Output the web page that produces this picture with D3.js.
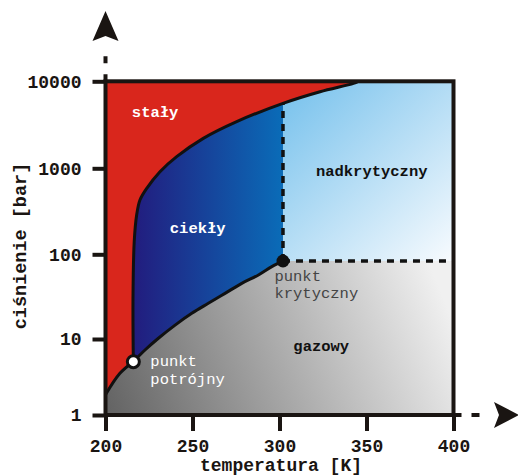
<!DOCTYPE html>
<html>
<head>
<meta charset="utf-8">
<script src="https://cdn.jsdelivr.net/npm/d3@7"></script>
<style>
  body { margin: 0; background: #fff; }
  text { font-family: "Liberation Mono", "DejaVu Sans Mono", monospace; }
</style>
</head>
<body>
<script>
const svgWidth = 518
const svgHeight = 476

// tick values
const xTicks = [200, 250, 300, 350, 400]
const yTicks = [1, 10, 100, 1000, 10000]

// phase boundaries [T (K), p (bar)]
const sublimation = [[200, 1.85], [208.3, 3.54], [216, 5.03]]
const vaporization = [[216, 5.03], [222.7, 7.17], [230.4, 10.2], [240, 14.6], [249.6, 20.1],
  [259.1, 26.4], [268.7, 34.6], [278.3, 45.4], [287.9, 57], [295.6, 71.5], [302, 83.4]]
const melting = [[216, 5.03], [215.8, 30], [216.5, 140], [217.9, 286], [219.8, 428], [223.7, 585],
  [231.3, 912], [240.9, 1360], [256.2, 2210], [275.4, 3440], [302, 5580], [323.3, 7590],
  [342.5, 9480], [345.2, 10000]]

const triplePoint = [216, 5.03]
const criticalPoint = [302, 83.4]

const phaseLabels = [
  { text: "stały", T: 228.5, p: 3900, color: "#fff" },
  { text: "ciekły", T: 253, p: 178, color: "#fff" },
  { text: "nadkrytyczny", T: 353, p: 815, color: "#111" },
  { text: "gazowy", T: 324, p: 6.95, color: "#111" }
]

const svg = d3.select("body").append("svg")
  .attr("width", svgWidth)
  .attr("height", svgHeight)

const x = d3.scaleLinear()
  .domain([200, 400])
  .range([105.5, 453.5])

// the picture's decades are not all the same height
const y = d3.scaleLog()
  .domain(yTicks)
  .range([415, 339, 254.3, 168.3, 81.3])

const line = d3.line()
  .x(d => x(d[0]))
  .y(d => y(d[1]))
  .curve(d3.curveCatmullRom.alpha(0.5))

const straight = d3.line().x(d => x(d[0])).y(d => y(d[1]))

// join path pieces into one outline
const join = parts => parts.map((p, i) => i === 0 ? p : "L" + p.slice(1)).join("") + "Z"

const defs = svg.append("defs")

const grad = (id, x1, y1, x2, y2, stops) => {
  const g = defs.append("linearGradient").attr("id", id)
    .attr("gradientUnits", "userSpaceOnUse")
    .attr("x1", x1).attr("y1", y1).attr("x2", x2).attr("y2", y2)
  stops.forEach(s => g.append("stop").attr("offset", s[0]).attr("stop-color", s[1]))
}

grad("liquidGrad", x(216), 0, x(criticalPoint[0]), 0, [[0, "#221c7e"], [1, "#0a6cb8"]])
grad("superGrad", x(criticalPoint[0]), y(10000), x(400), y(criticalPoint[1]), [[0, "#74c0ec"], [1, "#f8fbfe"]])
grad("gasGrad", x(200), y(1), x(390), y(50), [[0, "#626262"], [1, "#f0f0f0"]])

defs.append("clipPath").attr("id", "clipLeft").append("rect")
  .attr("x", x(200)).attr("y", y(10000))
  .attr("width", x(criticalPoint[0]) - x(200)).attr("height", y(1) - y(10000))
defs.append("clipPath").attr("id", "clipRight").append("rect")
  .attr("x", x(criticalPoint[0])).attr("y", y(10000))
  .attr("width", x(400) - x(criticalPoint[0])).attr("height", y(1) - y(10000))

const plotG = svg.append("g")

// solid everywhere first
plotG.append("rect")
  .attr("x", x(200)).attr("y", y(10000))
  .attr("width", x(400) - x(200)).attr("height", y(1) - y(10000))
  .attr("fill", "#d9261c")

// gas
const gasPath = join([
  straight([[200, 1], sublimation[0]]),
  line(sublimation),
  line(vaporization),
  straight([criticalPoint, [400, criticalPoint[1]], [400, 1]])
])
plotG.append("path").attr("d", gasPath).attr("fill", "url(#gasGrad)")

// liquid + supercritical fluid
const fluidPath = join([
  line(melting),
  straight([[400, 10000], [400, criticalPoint[1]], criticalPoint]),
  line(vaporization.slice().reverse())
])
plotG.append("path").attr("d", fluidPath).attr("fill", "url(#liquidGrad)").attr("clip-path", "url(#clipLeft)")
plotG.append("path").attr("d", fluidPath).attr("fill", "url(#superGrad)").attr("clip-path", "url(#clipRight)")

// dashed critical lines
const meltAtCrit = melting.find(d => d[0] === criticalPoint[0])
plotG.append("path")
  .attr("d", straight([criticalPoint, meltAtCrit]))
  .attr("stroke", "#111").attr("stroke-width", 3.5).attr("stroke-dasharray", "7,6").attr("fill", "none")
plotG.append("path")
  .attr("d", straight([criticalPoint, [400, criticalPoint[1]]]))
  .attr("stroke", "#111").attr("stroke-width", 3.5).attr("stroke-dasharray", "7,6").attr("fill", "none")

// boundaries
;[sublimation, vaporization, melting].forEach(c => {
  plotG.append("path").attr("d", line(c))
    .attr("fill", "none").attr("stroke", "#111").attr("stroke-width", 3)
})

// frame
svg.append("rect")
  .attr("x", x(200)).attr("y", y(10000))
  .attr("width", x(400) - x(200)).attr("height", y(1) - y(10000))
  .attr("fill", "none").attr("stroke", "#1a1512").attr("stroke-width", 4)

// axes
const xAxisG = svg.append("g")
  .attr("transform", `translate(0, ${y(1)})`)
  .call(d3.axisBottom(x).tickValues(xTicks).tickSize(16).tickSizeOuter(0).tickPadding(8))
const yAxisG = svg.append("g")
  .attr("transform", `translate(${x(200)}, 0)`)
  .call(d3.axisLeft(y).tickValues(yTicks).tickFormat(d3.format("d")).tickSize(13).tickSizeOuter(0).tickPadding(11))

;[xAxisG, yAxisG].forEach(g => {
  g.select(".domain").remove()
  g.selectAll(".tick line").attr("stroke", "#1a1512").attr("stroke-width", 4)
  g.selectAll(".tick text")
    .attr("fill", "#1a1512")
    .style("font-family", "'Liberation Mono', monospace")
    .style("font-size", "18px")
    .style("font-weight", "bold")
})

// dashed axis extensions with arrows
svg.append("line")
  .attr("x1", x(200)).attr("x2", x(200)).attr("y1", y(10000)).attr("y2", 56)
  .attr("stroke", "#1a1512").attr("stroke-width", 4).attr("stroke-dasharray", "7,11")
svg.append("path")
  .attr("d", `M${x(200)},11 L${x(200) + 13},41 L${x(200)},36 L${x(200) - 13},41 Z`)
  .attr("fill", "#1a1512")

svg.append("line")
  .attr("x1", x(400)).attr("x2", 481).attr("y1", y(1)).attr("y2", y(1))
  .attr("stroke", "#1a1512").attr("stroke-width", 4).attr("stroke-dasharray", "8,10")
svg.append("path")
  .attr("d", `M519,${y(1)} L494,${y(1) - 13} L499,${y(1)} L494,${y(1) + 13} Z`)
  .attr("fill", "#1a1512")

// special points
svg.append("circle")
  .attr("cx", x(criticalPoint[0])).attr("cy", y(criticalPoint[1])).attr("r", 6.5)
  .attr("fill", "#111")
svg.append("circle")
  .attr("cx", x(triplePoint[0])).attr("cy", y(triplePoint[1])).attr("r", 6)
  .attr("fill", "#fff").attr("stroke", "#111").attr("stroke-width", 3)

// phase labels
svg.selectAll(".phase")
  .data(phaseLabels)
  .enter()
  .append("text")
  .attr("class", "phase")
  .attr("x", d => x(d.T))
  .attr("y", d => y(d.p))
  .attr("text-anchor", "middle")
  .attr("fill", d => d.color)
  .style("font-size", "15.5px")
  .style("font-weight", "bold")
  .text(d => d.text)

const pointNote = (lines, px, py, color) => {
  const t = svg.append("text")
    .attr("x", px).attr("y", py)
    .attr("fill", color)
    .style("font-size", "15.5px")
  lines.forEach((l, i) => t.append("tspan").attr("x", px).attr("dy", i === 0 ? 0 : 17.5).text(l))
}
pointNote(["punkt", "potrójny"], x(triplePoint[0]) + 17, y(triplePoint[1]) + 4.5, "#fff")
pointNote(["punkt", "krytyczny"], x(criticalPoint[0]) - 8.5, y(criticalPoint[1]) + 20, "#444")

// axis titles
svg.append("text")
  .attr("x", 281).attr("y", 471)
  .attr("text-anchor", "middle")
  .attr("fill", "#1a1512")
  .style("font-size", "18px").style("font-weight", "bold")
  .text("temperatura [K]")

svg.append("text")
  .attr("transform", "translate(26, 246) rotate(-90)")
  .attr("text-anchor", "middle")
  .attr("fill", "#1a1512")
  .style("font-size", "18.5px").style("font-weight", "bold")
  .text("ciśnienie [bar]")
</script>
</body>
</html>
